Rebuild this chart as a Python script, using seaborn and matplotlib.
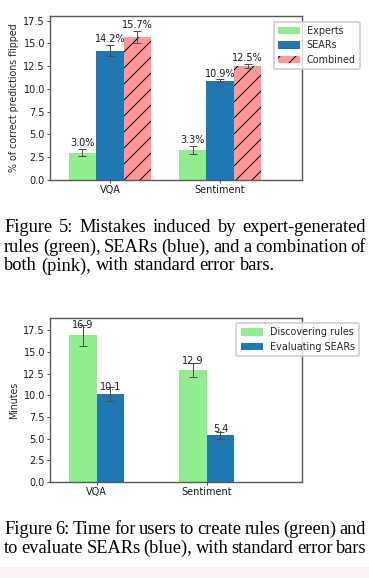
import numpy as np
import pandas as pd
import matplotlib
matplotlib.use("Agg")
import matplotlib.pyplot as plt
from matplotlib.patches import Rectangle
import seaborn as sns

tasks = ["VQA", "Sentiment"]

# Figure 5 data
flip_series = ["Experts", "SEARs", "Combined"]
flip_experts = [3.0, 3.3]
flip_sears = [14.2, 10.9]
flip_combined = [15.7, 12.5]
flip_err_experts = [0.42, 0.45]
flip_err_sears = [0.6, 0.15]
flip_err_combined = [0.65, 0.25]

# Figure 6 data
time_series = ["Discovering rules", "Evaluating SEARs"]
time_discover = [16.9, 12.9]
time_evaluate = [10.1, 5.4]
time_err_discover = [1.2, 0.85]
time_err_evaluate = [0.8, 0.4]

caption5 = ["Figure 5:  Mistakes induced by expert-generated",
            "rules (green), SEARs (blue), and a combination of",
            "both (pink), with standard error bars."]
caption6 = ["Figure 6: Time for users to create rules (green) and",
            "to evaluate SEARs (blue), with standard error bars"]

green = "#90ee90"
blue = "#1f77b4"
pink = "#ff9999"

W, H, DPI = 369, 578, 144
fs = 4.85

sns.set_style("ticks")
plt.rcParams["font.family"] = ["DejaVu Sans"]
plt.rcParams["hatch.linewidth"] = 0.5

fig = plt.figure(figsize=(W / DPI, H / DPI), dpi=DPI)
fig.patch.set_facecolor("white")


def style_axes(ax):
    for s in ax.spines.values():
        s.set_visible(True)
        s.set_color("0.35")
        s.set_linewidth(0.7)
    ax.tick_params(length=1.5, width=0.5, color="0.3", labelsize=fs, pad=1,
                   labelcolor="0.1")
    ax.set_xlabel("")


def draw_bars(ax, df, series, colors, width):
    sns.barplot(data=df, x="task", y="value", hue="series", order=tasks,
                hue_order=series, palette=colors, width=width, errorbar=None,
                saturation=1, legend=False, ax=ax)
    conts = list(ax.containers)
    out = []
    for cont, name in zip(conts, series):
        sub = df[df["series"] == name].set_index("task").loc[tasks]
        bars = sorted(cont.patches, key=lambda b: b.get_x())
        for b in bars:
            b.set_linewidth(0)
        xs = [b.get_x() + b.get_width() / 2 for b in bars]
        ax.errorbar(xs, sub["value"], yerr=sub["err"], fmt="none",
                    ecolor="0.3", elinewidth=0.5, capsize=2.2, capthick=0.5)
        out.append((xs, sub["value"].tolist(), sub["err"].tolist(), bars))
    return conts, out


# ---- top chart
df_flip = pd.DataFrame({
    "task": tasks * 3,
    "series": np.repeat(flip_series, len(tasks)),
    "value": flip_experts + flip_sears + flip_combined,
    "err": flip_err_experts + flip_err_sears + flip_err_combined,
})
ax1 = fig.add_axes([50 / W, 1 - 180 / H, 252 / W, 164 / H])
conts1, info1 = draw_bars(ax1, df_flip, flip_series, [green, blue, pink], 0.75)
for b in info1[2][3]:
    b.set_hatch("///")
    b.set_edgecolor("black")
    b.set_linewidth(0)
for xs, vals, errs, _ in info1:
    for x, v, e in zip(xs, vals, errs):
        ax1.text(x, v + e + 0.3, f"{v:.1f}%", ha="center", va="baseline",
                 fontsize=fs, color="0.1")
ax1.set_xlim(-0.545, 1.745)
ax1.set_ylim(0, 18.0)
ax1.set_yticks(np.arange(0, 17.6, 2.5))
ax1.set_ylabel("% of correct predictions flipped", fontsize=4.75, labelpad=2.2)
style_axes(ax1)
ax1.legend(handles=conts1, labels=flip_series, loc="upper right",
           bbox_to_anchor=(1.23, 0.965), borderaxespad=0, fontsize=4.8,
           edgecolor="0.8", handlelength=2.3, handleheight=0.8,
           labelspacing=0.45, borderpad=0.45, handletextpad=0.7)

# ---- bottom chart
df_time = pd.DataFrame({
    "task": tasks * 2,
    "series": np.repeat(time_series, len(tasks)),
    "value": time_discover + time_evaluate,
    "err": time_err_discover + time_err_evaluate,
})
ax2 = fig.add_axes([50 / W, 1 - 482 / H, 252 / W, 164 / H])
conts2, info2 = draw_bars(ax2, df_time, time_series, [green, blue], 0.5)
for xs, vals, errs, _ in info2:
    for x, v, e in zip(xs, vals, errs):
        ax2.text(x, v * 1.05 + 0.05, f"{v:.1f}", ha="center", va="baseline",
                 fontsize=fs, color="0.1")
ax2.set_xlim(-0.425, 1.866)
ax2.set_ylim(0, 18.9)
ax2.set_yticks(np.arange(0, 17.6, 2.5))
ax2.set_ylabel("Minutes", fontsize=4.75, labelpad=2.2)
style_axes(ax2)
ax2.legend(handles=conts2, labels=time_series, loc="upper right",
           bbox_to_anchor=(1.226, 0.97), borderaxespad=0, fontsize=4.8,
           edgecolor="0.8", handlelength=2.3, handleheight=0.8,
           labelspacing=0.45, borderpad=0.45, handletextpad=0.7)

# ---- captions (justified like the paper)
cap_fs = 9.2
renderer = fig.canvas.get_renderer()


def caption_line(text, base_px, justify=True, x0=4, x1=366):
    words = text.split()
    arts = [fig.text(0, 1 - base_px / H, w, fontsize=cap_fs, va="baseline",
                     family=["Liberation Serif", "DejaVu Serif"], color="black")
            for w in words]
    widths = [a.get_window_extent(renderer).width for a in arts]
    space = 0.25 * cap_fs * DPI / 72
    gap = space
    if justify and len(words) > 1:
        gap = max((x1 - x0 - sum(widths)) / (len(words) - 1), 0.45 * space)
    x = x0
    for a, w in zip(arts, widths):
        a.set_x(x / W)
        x += w + gap


caption_line(caption5[0], 232.5)
caption_line(caption5[1], 251.5)
caption_line(caption5[2], 270.5, justify=False)
caption_line(caption6[0], 534)
caption_line(caption6[1], 553)

fig.add_artist(Rectangle((0, 0), 1, 11 / H, transform=fig.transFigure,
                         facecolor="#faf3f3", edgecolor="none", zorder=-1))

fig.savefig("out.png", dpi=DPI)
